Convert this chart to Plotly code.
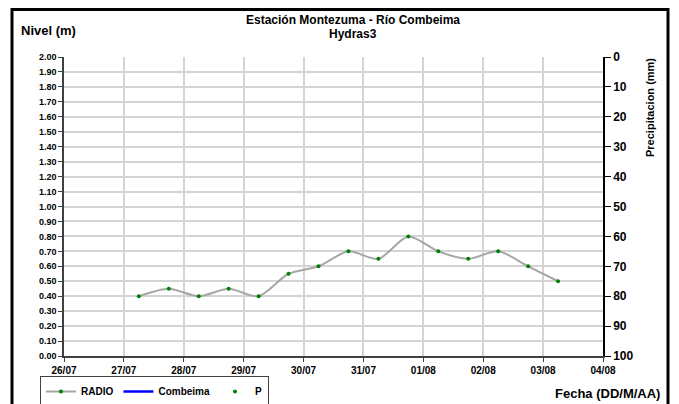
import plotly.graph_objects as go

# Data
fechas = ["2012-07-27 06:00", "2012-07-27 18:00", "2012-07-28 06:00", "2012-07-28 18:00",
          "2012-07-29 06:00", "2012-07-29 18:00", "2012-07-30 06:00", "2012-07-30 18:00",
          "2012-07-31 06:00", "2012-07-31 18:00", "2012-08-01 06:00", "2012-08-01 18:00",
          "2012-08-02 06:00", "2012-08-02 18:00", "2012-08-03 06:00"]
radio = [0.40, 0.45, 0.40, 0.45, 0.40, 0.55, 0.60, 0.70, 0.65, 0.80, 0.70, 0.65, 0.70, 0.60, 0.50]
combeima_x = [None]
combeima_y = [None]
p_x = [None]
p_y = [None]

FONT = "Liberation Sans"
OFF = 8  # page body margin
W, H = 679 - OFF, 404 - OFF
PL, PR, PT, PB = 64, 603, 57, 356  # plot area in page pixels
L, R, T, B = PL - OFF, W - (PR - OFF), PT - OFF, H - (PB - OFF)
pw, ph = W - L - R, H - T - B

def px(x):
    return (x - OFF - L) / pw

def py(y):
    return (H - B - (y - OFF)) / ph

fig = go.Figure()
fig.add_trace(go.Scatter(x=fechas, y=radio, name="RADIO", mode="lines+markers",
                         line=dict(color="#a6a6a6", width=2, shape="spline", smoothing=0.8),
                         marker=dict(color="#008000", size=4)))
fig.add_trace(go.Scatter(x=combeima_x, y=combeima_y, name="Combeima", mode="lines",
                         line=dict(color="#0000ff", width=2.5)))
fig.add_trace(go.Scatter(x=p_x, y=p_y, name="P", mode="markers", yaxis="y2",
                         marker=dict(color="#008000", size=4)))

fig.update_layout(
    width=W, height=H,
    margin=dict(l=L, r=R, t=T, b=B, autoexpand=False),
    paper_bgcolor="white", plot_bgcolor="white",
    font=dict(family=FONT, color="black"),
    showlegend=True,
    legend=dict(orientation="h", x=px(40), y=py(376), xanchor="left", yanchor="top",
                bordercolor="#404040", borderwidth=1,
                font=dict(family=FONT, size=10, weight="bold"),
                itemwidth=30, tracegroupgap=0),
    xaxis=dict(type="date", range=["2012-07-26", "2012-08-04"],
               dtick=86400000, tick0="2012-07-26", tickformat="%d/%m",
               showgrid=True, gridcolor="#d4d4d4", gridwidth=1.5,
               showline=True, linecolor="#404040", linewidth=1.5,
               ticks="outside", ticklen=4, tickcolor="#404040",
               tickfont=dict(family=FONT, size=10, weight="bold"), zeroline=False),
    yaxis=dict(range=[0, 2], dtick=0.1, tickformat=".2f",
               showgrid=True, gridcolor="#d4d4d4", gridwidth=1.5,
               showline=True, linecolor="#404040", linewidth=1.5,
               ticks="outside", ticklen=4, tickcolor="#404040",
               tickfont=dict(family=FONT, size=9, weight="bold"), zeroline=False),
    yaxis2=dict(overlaying="y", side="right", range=[100, 0], dtick=10,
                showgrid=False, showline=True, linecolor="black", linewidth=1.5,
                ticks="outside", ticklen=6, tickcolor="black",
                tickfont=dict(family=FONT, size=12, weight="bold"), zeroline=False),
    shapes=[dict(type="rect", xref="paper", yref="paper",
                 x0=px(12), x1=px(668), y0=py(420), y1=py(9.5),
                 line=dict(color="black", width=3), fillcolor="rgba(0,0,0,0)", layer="below")],
    annotations=[
        dict(text="Estación Montezuma - Río Combeima", xref="paper", yref="paper",
             x=px(353), y=py(20), xanchor="center", yanchor="middle", showarrow=False,
             font=dict(family=FONT, size=12, weight="bold")),
        dict(text="Hydras3", xref="paper", yref="paper",
             x=px(353), y=py(34), xanchor="center", yanchor="middle", showarrow=False,
             font=dict(family=FONT, size=12, weight="bold")),
        dict(text="Nivel (m)", xref="paper", yref="paper", x=px(19), y=py(30),
             xanchor="left", yanchor="middle", showarrow=False,
             font=dict(family=FONT, size=13, weight="bold")),
        dict(text="Precipitacion (mm)", xref="paper", yref="paper", x=px(650), y=py(108),
             xanchor="center", yanchor="middle", textangle=-90, showarrow=False,
             font=dict(family=FONT, size=11, weight="bold")),
        dict(text="Fecha (DD/M/AA)", xref="paper", yref="paper", x=px(662), y=py(393),
             xanchor="right", yanchor="middle", showarrow=False,
             font=dict(family=FONT, size=13, weight="bold")),
    ],
)

fig.write_html("out.html")
